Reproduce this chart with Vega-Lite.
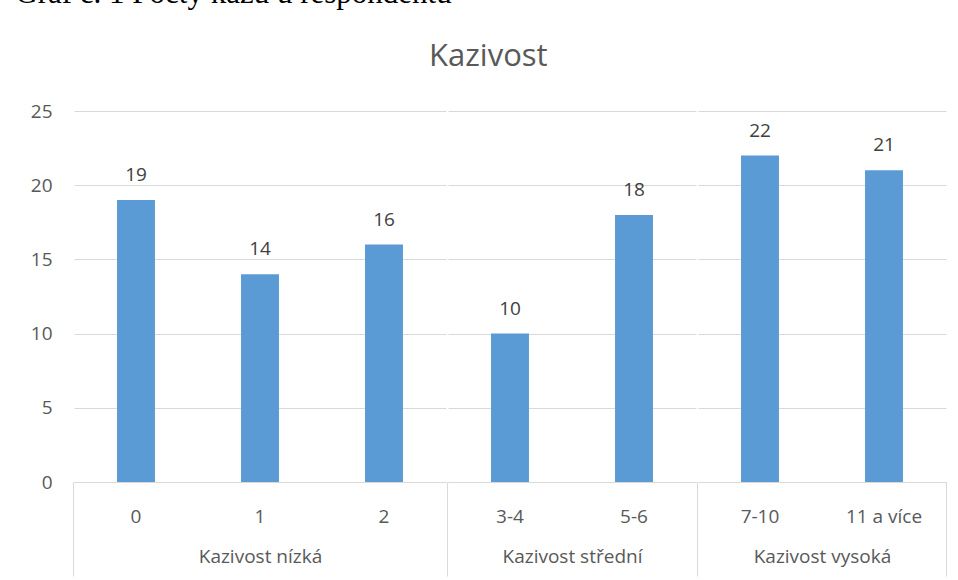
{
  "$schema": "https://vega.github.io/schema/vega-lite/v6.json",
  "padding": {"left": 15, "top": -22, "right": 0, "bottom": 0},
  "background": "white",
  "config": {"font": "Open Sans", "view": {"stroke": null}},
  "data": {"values": [
    {"category": "0", "group": "Kazivost nízká", "count": 19},
    {"category": "1", "group": "Kazivost nízká", "count": 14},
    {"category": "2", "group": "Kazivost nízká", "count": 16},
    {"category": "3-4", "group": "Kazivost střední", "count": 10},
    {"category": "5-6", "group": "Kazivost střední", "count": 18},
    {"category": "7-10", "group": "Kazivost vysoká", "count": 22},
    {"category": "11 a více", "group": "Kazivost vysoká", "count": 21}
  ]},
  "title": {"text": "Graf č. 1 Počty kazů u respondentů", "anchor": "start", "font": "Liberation Serif", "fontSize": 31, "fontWeight": "normal", "color": "#000000", "offset": 31, "dx": -15},
  "vconcat": [
    {
      "title": {"text": "Kazivost", "anchor": "middle", "fontSize": 31, "fontWeight": "normal", "color": "#595959", "offset": 29},
      "spacing": 0,
      "hconcat": [
        {
          "width": 372, "height": 371,
          "transform": [{"filter": {"field": "group", "equal": "Kazivost nízká"}}],
          "encoding": {
            "x": {"field": "category", "type": "nominal", "sort": null,
              "scale": {"paddingInner": 0.694, "paddingOuter": 0.347},
              "axis": {"title": "Kazivost nízká", "labelAngle": 0, "labelFontSize": 19, "labelColor": "#595959",
                "titleFontSize": 19, "titleFontWeight": "normal", "titleColor": "#595959", "titleY": 74, "titleBaseline": "middle",
                "domainColor": "#d9d9d9", "tickColor": "#d9d9d9", "tickSize": 94, "bandPosition": -1.134,
                "tickOpacity": {"condition": {"test": "datum.index === 0", "value": 1}, "value": 0},
                "labelPadding": -69}},
            "y": {"field": "count", "type": "quantitative", "scale": {"domain": [0, 25]},
              "axis": {"title": null, "values": [0, 5, 10, 15, 20, 25], "domain": false, "ticks": false,
                "labelFontSize": 19, "labelColor": "#595959", "labelPadding": 22, "gridColor": "#d9d9d9"}}
          },
          "layer": [
            {"mark": {"type": "bar", "color": "#5b9bd5"}},
            {"mark": {"type": "text", "baseline": "bottom", "dy": -15, "fontSize": 19, "color": "#404040"},
             "encoding": {"text": {"field": "count", "type": "quantitative"}}}
          ]
        },
        {
          "width": 248, "height": 371,
          "transform": [{"filter": {"field": "group", "equal": "Kazivost střední"}}],
          "encoding": {
            "x": {"field": "category", "type": "nominal", "sort": null,
              "scale": {"paddingInner": 0.694, "paddingOuter": 0.347},
              "axis": {"title": "Kazivost střední", "labelAngle": 0, "labelFontSize": 19, "labelColor": "#595959",
                "titleFontSize": 19, "titleFontWeight": "normal", "titleColor": "#595959", "titleY": 74, "titleBaseline": "middle",
                "domainColor": "#d9d9d9", "tickColor": "#d9d9d9", "tickSize": 94, "bandPosition": -1.134,
                "tickOpacity": {"condition": {"test": "datum.index === 0", "value": 1}, "value": 0},
                "labelPadding": -69}},
            "y": {"field": "count", "type": "quantitative", "scale": {"domain": [0, 25]},
              "axis": {"title": null, "values": [0, 5, 10, 15, 20, 25], "domain": false, "ticks": false, "labels": false, "gridColor": "#d9d9d9"}}
          },
          "layer": [
            {"mark": {"type": "bar", "color": "#5b9bd5"}},
            {"mark": {"type": "text", "baseline": "bottom", "dy": -15, "fontSize": 19, "color": "#404040"},
             "encoding": {"text": {"field": "count", "type": "quantitative"}}}
          ]
        },
        {
          "width": 248, "height": 371,
          "transform": [{"filter": {"field": "group", "equal": "Kazivost vysoká"}}],
          "encoding": {
            "y": {"field": "count", "type": "quantitative", "scale": {"domain": [0, 25]},
              "axis": {"title": null, "values": [0, 5, 10, 15, 20, 25], "domain": false, "ticks": false, "labels": false, "gridColor": "#d9d9d9"}}
          },
          "layer": [
            {"mark": {"type": "bar", "color": "#5b9bd5"},
             "encoding": {"x": {"field": "category", "type": "nominal", "sort": null,
              "scale": {"paddingInner": 0.694, "paddingOuter": 0.347},
              "axis": {"title": "Kazivost vysoká", "orient": "bottom", "labelAngle": 0, "labelFontSize": 19, "labelColor": "#595959",
                "titleFontSize": 19, "titleFontWeight": "normal", "titleColor": "#595959", "titleY": 74, "titleBaseline": "middle",
                "domainColor": "#d9d9d9", "tickColor": "#d9d9d9", "tickSize": 94, "bandPosition": -1.134,
                "tickOpacity": {"condition": {"test": "datum.index === 0", "value": 1}, "value": 0},
                "labelPadding": -69}}}},
            {"mark": {"type": "text", "baseline": "bottom", "dy": -15, "fontSize": 19, "color": "#404040"},
             "encoding": {"text": {"field": "count", "type": "quantitative"},
              "x": {"field": "category", "type": "nominal", "sort": null,
              "axis": {"title": null, "orient": "bottom", "labels": false, "domain": false, "grid": false,
                "tickColor": "#d9d9d9", "tickSize": 94, "bandPosition": 2.134,
                "tickOpacity": {"condition": {"test": "datum.index === 1", "value": 1}, "value": 0}}}}}
          ],
          "resolve": {"axis": {"x": "independent"}}
        }
      ]
    }
  ]
}
